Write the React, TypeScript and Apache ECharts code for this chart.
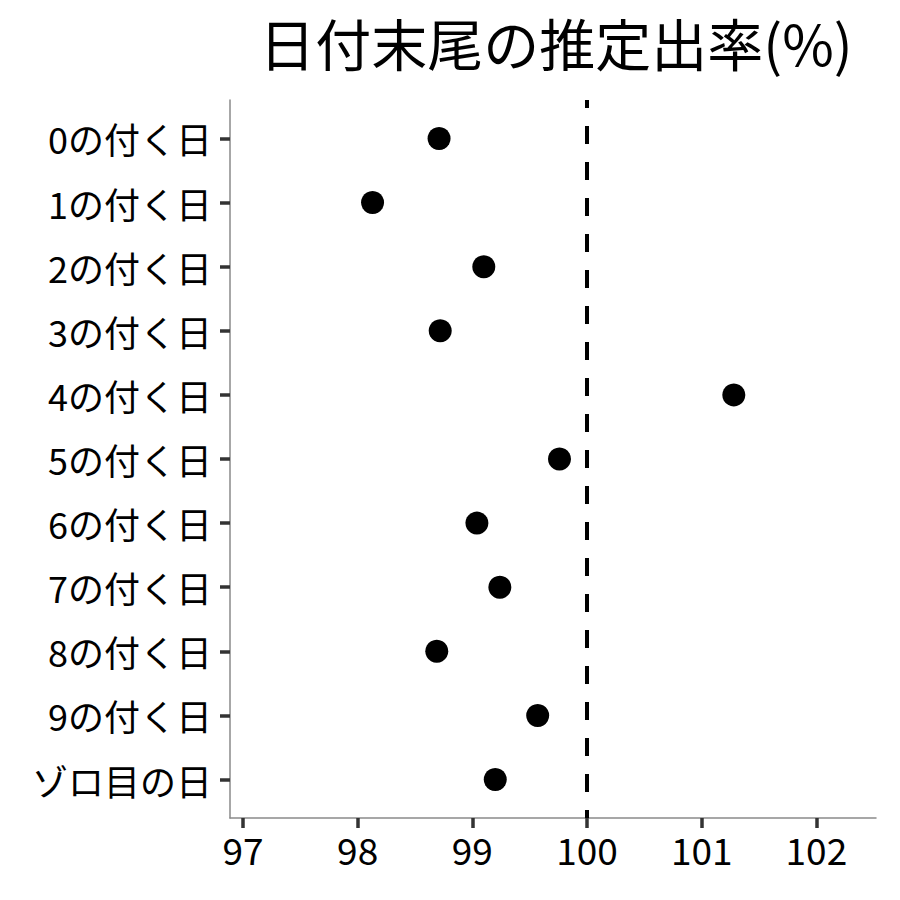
import React, { useEffect, useRef } from "react";
import * as echarts from "echarts";

const categories = [
  "0の付く日", "1の付く日", "2の付く日", "3の付く日", "4の付く日",
  "5の付く日", "6の付く日", "7の付く日", "8の付く日", "9の付く日", "ゾロ目の日",
];
const rates = [98.71, 98.13, 99.1, 98.72, 101.28, 99.76, 99.04, 99.24, 98.69, 99.57, 99.2];
const xTicks = [97, 98, 99, 100, 101, 102];
const refValue = 100;
const titleText = "日付末尾の推定出率(%)";

const FONT = "'Noto Sans CJK JP', 'Noto Sans', sans-serif";

export default function App() {
  const ref = useRef<HTMLDivElement>(null);
  useEffect(() => {
    document.body.style.margin = "0";
    const chart = echarts.init(ref.current!, null, { renderer: "svg" });
    const yIdx = categories.map((_, i) => i);
    chart.setOption({
      animation: false,
      backgroundColor: "#ffffff",
      title: {
        text: titleText,
        left: 551,
        textAlign: "center",
        top: 6,
        textStyle: { fontFamily: FONT, fontSize: 56, lineHeight: 60, fontWeight: "normal", color: "#000" },
      },
      grid: { left: 230, top: 100, width: 646, height: 718, containLabel: false },
      xAxis: {
        type: "value",
        min: 96.887,
        max: 102.52,
        splitLine: { show: false },
        axisLine: { show: true, onZero: false, lineStyle: { color: "#8a8a8a", width: 1.5 } },
        axisTick: { show: true, length: 10, lineStyle: { color: "#333", width: 3.5 }, customValues: xTicks },
        axisLabel: {
          customValues: xTicks,
          color: "#000",
          fontFamily: FONT,
          fontSize: 37,
          margin: 12,
          formatter: (v: number) => String(Math.round(v)),
        },
      },
      yAxis: {
        type: "value",
        inverse: true,
        min: -0.6,
        max: 10.6,
        splitLine: { show: false },
        axisLine: { show: true, onZero: false, lineStyle: { color: "#8a8a8a", width: 1.5 } },
        axisTick: { show: true, length: 10, lineStyle: { color: "#333", width: 3.5 }, customValues: yIdx },
        axisLabel: {
          customValues: yIdx,
          color: "#000",
          fontFamily: FONT,
          fontSize: 36,
          margin: 18,
          formatter: (v: number) => categories[Math.round(v)] ?? "",
        },
      },
      series: [
        {
          type: "line",
          data: [[refValue, -0.6], [refValue, 10.6]],
          symbol: "none",
          silent: true,
          lineStyle: { color: "#000", width: 4, type: [18, 18], dashOffset: 10 },
          z: 1,
        },
        {
          type: "scatter",
          data: rates.map((r, i) => [r, i]),
          symbolSize: 23,
          itemStyle: { color: "#000", opacity: 1 },
          z: 2,
        },
      ],
    });
    return () => chart.dispose();
  }, []);
  return <div ref={ref} style={{ width: 900, height: 900 }} />;
}
